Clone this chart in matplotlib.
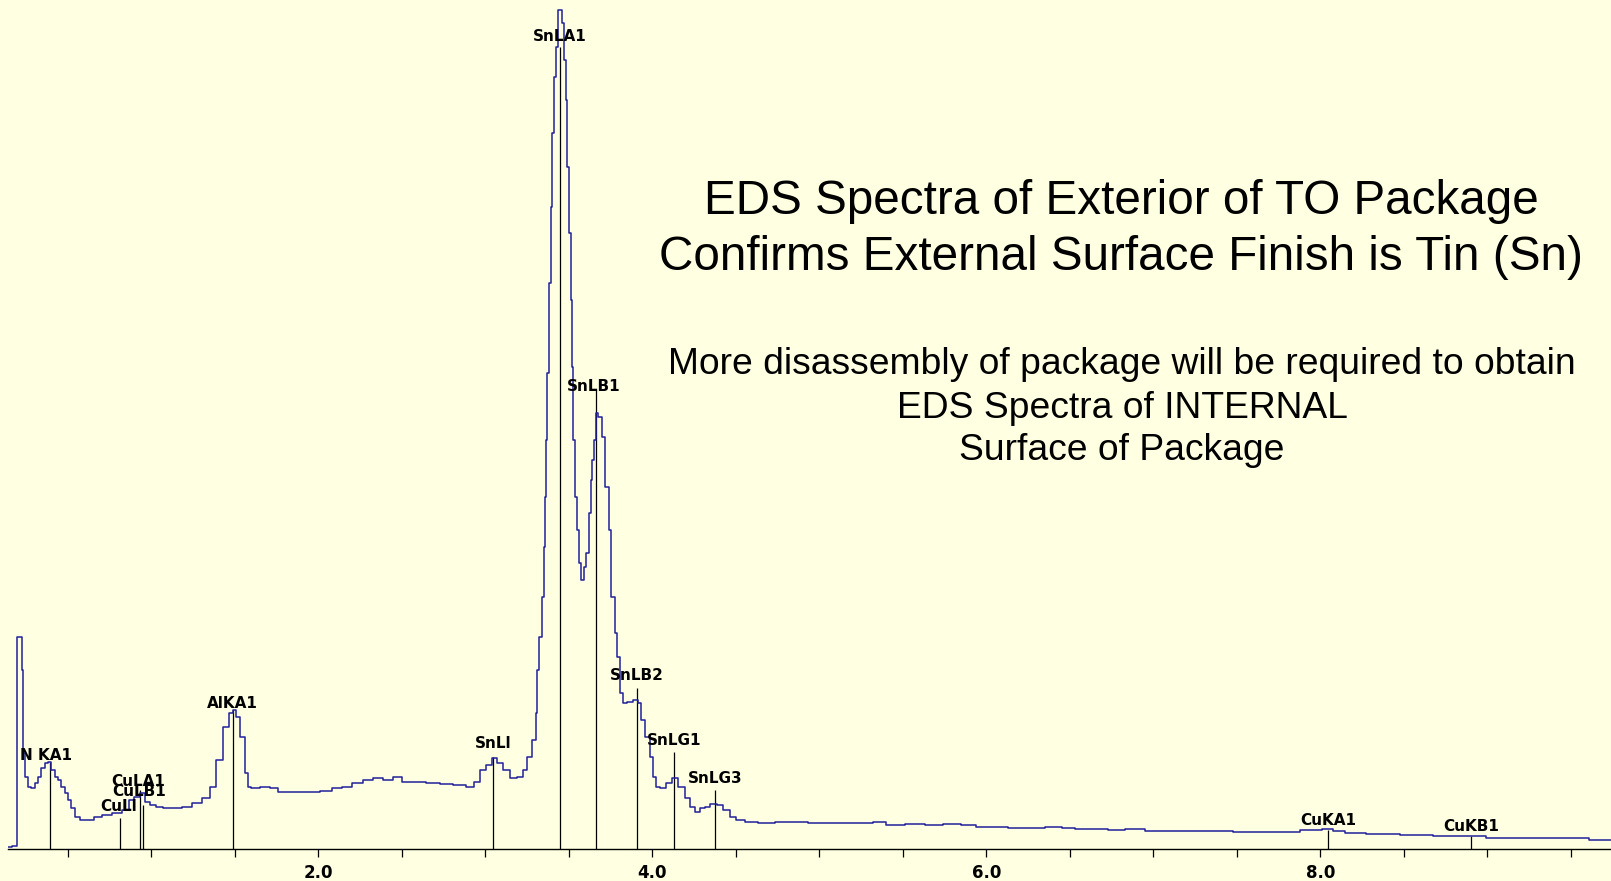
import matplotlib
matplotlib.use("Agg")
import matplotlib.pyplot as plt

# spectrum: energy (keV) and counts (arbitrary units)
energy_kev = [
    0.141, 0.189, 0.195, 0.200, 0.224, 0.230, 0.236, 0.254, 0.272, 0.290,
    0.315, 0.332, 0.350, 0.374, 0.392, 0.410, 0.434, 0.452, 0.470, 0.494,
    0.512, 0.530, 0.560, 0.590, 0.632, 0.674, 0.734, 0.793, 0.853, 0.883,
    0.913, 0.949, 0.973, 1.009, 1.051, 1.093, 1.153, 1.212, 1.272, 1.332,
    1.368, 1.410, 1.452, 1.482, 1.500, 1.518, 1.548, 1.572, 1.590, 1.608,
    1.692, 1.728, 1.787, 1.871, 1.967, 2.051, 2.111, 2.171, 2.231, 2.308,
    2.350, 2.428, 2.470, 2.530, 2.608, 2.686, 2.769, 2.847, 2.919, 2.949,
    2.985, 3.027, 3.057, 3.087, 3.129, 3.165, 3.207, 3.237, 3.266, 3.296,
    3.308, 3.314, 3.332, 3.344, 3.356, 3.362, 3.368, 3.374, 3.386, 3.398,
    3.404, 3.416, 3.428, 3.446, 3.458, 3.464, 3.476, 3.488, 3.494, 3.506,
    3.518, 3.524, 3.530, 3.542, 3.554, 3.566, 3.578, 3.590, 3.596, 3.614,
    3.626, 3.638, 3.644, 3.656, 3.668, 3.686, 3.704, 3.728, 3.746, 3.763,
    3.787, 3.793, 3.817, 3.835, 3.865, 3.907, 3.925, 3.943, 3.973, 3.997,
    4.015, 4.033, 4.063, 4.105, 4.135, 4.177, 4.207, 4.237, 4.267, 4.303,
    4.327, 4.363, 4.405, 4.446, 4.482, 4.524, 4.584, 4.686, 4.781, 4.883,
    4.985, 5.081, 5.183, 5.284, 5.362, 5.440, 5.584, 5.680, 5.799, 5.901,
    5.979, 6.081, 6.183, 6.278, 6.422, 6.482, 6.578, 6.680, 6.781, 6.877,
    7.021, 7.177, 7.380, 7.578, 7.775, 7.979, 8.039, 8.117, 8.177, 8.374,
    8.578, 8.775, 8.913, 9.075, 9.272, 9.476, 9.740,
]
counts = [
    2, 3, 3, 212, 212, 179, 96, 72, 62, 61,
    66, 72, 81, 86, 87, 79, 72, 69, 62, 56,
    49, 41, 32, 29, 29, 32, 34, 36, 39, 49,
    52, 56, 47, 44, 42, 41, 41, 42, 46, 51,
    62, 89, 122, 136, 139, 132, 112, 76, 62, 61,
    62, 61, 57, 57, 57, 58, 61, 62, 66, 69,
    71, 69, 72, 67, 67, 66, 65, 64, 62, 67,
    79, 84, 91, 86, 79, 71, 72, 79, 92, 109,
    136, 179, 212, 252, 302, 352, 409, 476, 566, 642,
    716, 772, 802, 839, 839, 826, 789, 749, 682, 616,
    549, 482, 409, 352, 319, 286, 269, 269, 282, 296,
    336, 369, 389, 409, 436, 432, 412, 362, 319, 252,
    216, 192, 156, 146, 147, 149, 146, 129, 112, 92,
    72, 62, 61, 66, 71, 62, 51, 42, 37, 41,
    42, 45, 44, 39, 32, 29, 27, 26, 27, 27,
    26, 26, 26, 26, 27, 24, 25, 24, 25, 24,
    22, 22, 21, 21, 22, 21, 20, 20, 19, 20,
    18, 18, 18, 17, 17, 19, 20, 18, 16, 15,
    14, 13, 13, 11, 11, 11, 9,
]

# identified lines
line_names = ["N KA1", "CuLl", "CuLA1", "CuLB1", "AlKA1", "SnLl", "SnLA1",
              "SnLB1", "SnLB2", "SnLG1", "SnLG3", "CuKA1", "CuKB1"]
line_kev = [0.392, 0.811, 0.930, 0.950, 1.486, 3.045, 3.444,
            3.663, 3.905, 4.131, 4.376, 8.046, 8.904]
line_height = [87, 31, 59, 44, 139, 92, 802, 459, 161, 97, 59, 19, 13]
label_height = [87, 36, 61, 51, 139, 99, 806, 456, 167, 102, 64, 22, 16]
label_shift = [-3, -1, -1, -3, 0, 0, 0, -2, 0, 0, 0, 0, 0]

tick_major = [2.0, 4.0, 6.0, 8.0]
tick_minor = [0.5, 1.0, 1.5, 2.5, 3.0, 3.5, 4.5, 5.0, 5.5, 6.5, 7.0,
              7.5, 8.5, 9.0, 9.5]

title_lines = ["EDS Spectra of Exterior of TO Package",
               "Confirms External Surface Finish is Tin (Sn)"]
note_lines = ["More disassembly of package will be required to obtain",
              "EDS Spectra of INTERNAL",
              "Surface of Package"]

bg = "#ffffe1"
fig = plt.figure(figsize=(16.11, 8.81), dpi=100, facecolor=bg)
ax = fig.add_axes([8 / 1611, 32 / 881, 1 - 8 / 1611, 849 / 881])
ax.set_facecolor(bg)

ax.plot(energy_kev, counts, drawstyle="steps-mid", color="#20209a", lw=1.1, zorder=3)
ax.vlines(line_kev, 0, line_height, color="black", lw=0.9, zorder=2)
for name, e, h, dx in zip(line_names, line_kev, label_height, label_shift):
    ax.annotate(name, (e, h), xytext=(dx, -1), textcoords="offset points",
                ha="center", va="bottom", fontsize=11, fontweight="bold",
                family="DejaVu Sans", color="black", zorder=4)

ax.set_xlim(0.141, 9.74)
ax.set_ylim(0, 849)
for s in ["left", "right", "top"]:
    ax.spines[s].set_visible(False)
ax.spines["bottom"].set_linewidth(1.0)
ax.set_yticks([])
ax.set_xticks(tick_major)
ax.set_xticklabels(["{:.1f}".format(t) for t in tick_major],
                   fontsize=12, fontweight="bold", family="DejaVu Sans")
ax.set_xticks(tick_minor, minor=True)
ax.tick_params(axis="x", which="both", direction="out", length=6, width=0.9, pad=5)

for i, t in enumerate(title_lines):
    fig.text(1121 / 1611, 1 - (201 + 56 * i) / 881, t, ha="center", va="center",
             fontsize=34.3, family="Liberation Sans", color="black")
note_y = [364, 409, 451]
for t, y in zip(note_lines, note_y):
    fig.text(1122 / 1611, 1 - y / 881, t, ha="center", va="center",
             fontsize=26.8, family="Liberation Sans", color="black")

plt.savefig("out.png", facecolor=bg)
plt.close()
